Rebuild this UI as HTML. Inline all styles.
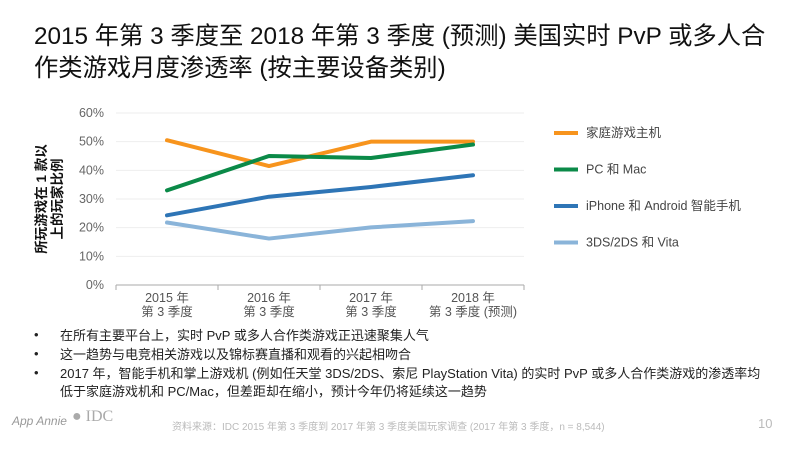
<!DOCTYPE html>
<html><head><meta charset="utf-8"><style>
body{margin:0;width:800px;height:450px;background:#fff;font-family:"Liberation Sans","Noto Sans CJK SC",sans-serif;overflow:hidden;position:relative}
.t{position:absolute;left:34px;top:21px;font-size:24.3px;line-height:32px;color:#111;width:742px}
.b{position:absolute;left:34px;font-size:13px;color:#222}
.b span{position:absolute;left:0}
.b div{margin-left:26px;line-height:18px}
</style></head><body>
<div class="t">2015 年第 3 季度至 2018 年第 3 季度 (预测) 美国实时 PvP 或多人合作类游戏月度渗透率 (按主要设备类别)</div>
<svg id="c" width="800" height="330" style="position:absolute;left:0;top:0"></svg>
<div class="b" style="top:327px"><span>•</span><div>在所有主要平台上，实时 PvP 或多人合作类游戏正迅速聚集人气</div></div>
<div class="b" style="top:346px"><span>•</span><div>这一趋势与电竞相关游戏以及锦标赛直播和观看的兴起相吻合</div></div>
<div class="b" style="top:365px;width:736px"><span>•</span><div>2017 年，智能手机和掌上游戏机 (例如任天堂 3DS/2DS、索尼 PlayStation Vita) 的实时 PvP 或多人合作类游戏的渗透率均低于家庭游戏机和 PC/Mac，但差距却在缩小，预计今年仍将延续这一趋势</div></div>
<div style="position:absolute;left:12px;top:414px;font-size:12px;font-style:italic;color:#999">App Annie</div>
<div style="position:absolute;left:72px;top:408px;font-size:16px;font-family:'Liberation Serif',serif;color:#aaa">● IDC</div>
<div style="position:absolute;left:172px;top:418px;font-size:10px;color:#bbb">资料来源：IDC 2015 年第 3 季度到 2017 年第 3 季度美国玩家调查 (2017 年第 3 季度，n = 8,544)</div>
<div style="position:absolute;left:758px;top:416px;font-size:13px;color:#bbb">10</div>
<script>
const categories=[["2015 年","第 3 季度"],["2016 年","第 3 季度"],["2017 年","第 3 季度"],["2018 年","第 3 季度 (预测)"]];
const yTicks=[0,10,20,30,40,50,60];
const seriesNames=["家庭游戏主机","PC 和 Mac","iPhone 和 Android 智能手机","3DS/2DS 和 Vita"];
const seriesColors=["#f7941d","#0b8a48","#2e75b6","#8ab4d9"];
const consoleVals=[50.5,41.5,50,50];
const pcVals=[33,45,44.3,49];
const phoneVals=[24.3,30.8,34.2,38.3];
const handheldVals=[21.8,16.2,20.1,22.3];
const series=[consoleVals,pcVals,phoneVals,handheldVals];
const svg=document.getElementById('c');const NS='http://www.w3.org/2000/svg';
const X0=116,X1=524,Y0=285,Y1=113;
const xs=i=>X0+(X1-X0)*(i+0.5)/categories.length;
const ys=v=>Y0-(Y0-Y1)*v/60;
function mk(t,a){const e=document.createElementNS(NS,t);for(const k in a)e.setAttribute(k,a[k]);svg.appendChild(e);return e;}
yTicks.forEach(v=>{
 const l=mk('line',{x1:X0,x2:X1,y1:ys(v),y2:ys(v),stroke:v?'#eee':'#aaa','stroke-width':1});
 
 
 const t=mk('text',{x:X0-12,y:ys(v)+4,'text-anchor':'end','font-size':12.5,fill:'#666'});t.textContent=v+'%';
 
 
});
for(let i=0;i<=categories.length;i++){const x=X0+(X1-X0)*i/categories.length;const tk=mk('line',{x1:x,x2:x,y1:Y0,y2:Y0+5,stroke:'#aaa'});
 
 }
categories.forEach((c,i)=>{c.forEach((s,j)=>{const t=mk('text',{x:xs(i),y:Y0+17+j*14,'text-anchor':'middle','font-size':12.5,fill:'#555'});t.textContent=s;
 
 });});
const yl=mk('text',{transform:'translate(46,199) rotate(-90)','text-anchor':'middle','font-size':13.5,'font-weight':'bold',fill:'#111'});


['所玩游戏在 1 款以','上的玩家比例'].forEach((s,j)=>{const ts=document.createElementNS(NS,'tspan');ts.setAttribute('x',0);ts.setAttribute('y',j*16);ts.textContent=s;yl.appendChild(ts);});
series.forEach((vals,k)=>{
 const p=mk('polyline',{points:vals.map((v,i)=>xs(i)+','+ys(v)).join(' '),fill:'none',stroke:seriesColors[k],'stroke-width':4,'stroke-linejoin':'round','stroke-linecap':'round'});
 
 
 const ly=133+k*36.5;
 const ll=mk('line',{x1:554,x2:578,y1:ly,y2:ly,stroke:seriesColors[k],'stroke-width':4});
 
 
 const lt=mk('text',{x:586,y:ly+4,'font-size':12.5,fill:'#444'});lt.textContent=seriesNames[k];
 
 
});
</script>
</body></html>
